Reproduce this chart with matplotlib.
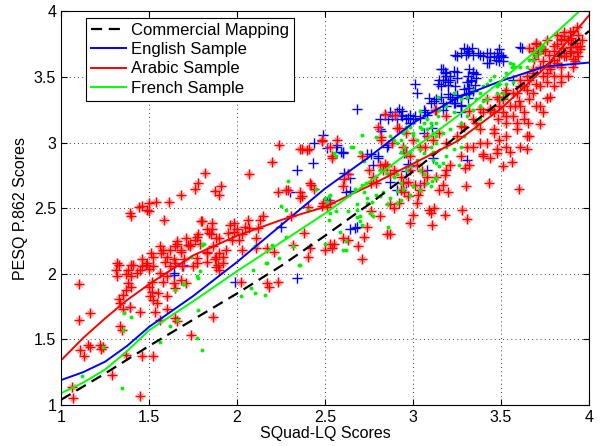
import numpy as np
import matplotlib
matplotlib.use("Agg")
import matplotlib.pyplot as plt
from matplotlib.ticker import FuncFormatter

plt.rcParams['font.family'] = ['Liberation Sans', 'DejaVu Sans']

# fitted curves, sampled along the SQuad-LQ axis
curve_x = [1.0, 1.125, 1.25, 1.375, 1.5, 1.75, 2.0, 2.25, 2.5, 2.75, 3.0, 3.25, 3.5, 3.75, 4.0]
commercial_y = [1.04, 1.14, 1.24, 1.345, 1.45, 1.65, 1.85, 2.06, 2.29, 2.53, 2.78, 3.05, 3.32, 3.58, 3.85]
english_fit = [1.19, 1.25, 1.33, 1.45, 1.595, 1.83, 2.09, 2.37, 2.65, 2.89, 3.15, 3.34, 3.47, 3.58, 3.61]
arabic_fit = [1.34, 1.51, 1.66, 1.80, 1.92, 2.14, 2.29, 2.41, 2.51, 2.67, 2.84, 3.01, 3.26, 3.57, 3.97]
french_fit = [1.09, 1.17, 1.27, 1.41, 1.57, 1.79, 2.02, 2.24, 2.46, 2.70, 2.95, 3.20, 3.47, 3.76, 4.07]

# English samples (SQuad-LQ, PESQ)
english_pts = [
    (3.305, 3.71), (3.32, 3.70), (3.29, 3.72), (3.315, 3.68), (3.30, 3.67), (3.335, 3.72),
    (3.27, 3.68), (3.34, 3.67), (3.24, 3.67), (3.37, 3.68), (3.42, 3.61), (3.40, 3.66),
    (3.44, 3.68), (3.475, 3.68), (3.49, 3.71), (3.485, 3.65), (3.50, 3.66), (3.51, 3.62),
    (3.47, 3.63), (3.61, 3.73), (3.50, 3.67), (3.51, 3.65), (3.49, 3.62), (3.62, 3.72),
    (3.42, 3.68), (3.46, 3.66), (3.44, 3.65), (3.43, 3.61), (3.38, 3.67), (3.25, 3.66),
    (3.17, 3.56), (3.19, 3.53), (3.21, 3.51), (3.18, 3.48), (3.23, 3.545), (3.25, 3.49),
    (3.20, 3.44), (3.16, 3.43), (3.24, 3.43), (3.32, 3.56), (3.34, 3.53), (3.315, 3.51),
    (3.36, 3.49), (3.33, 3.47), (3.35, 3.44), (3.305, 3.46), (3.32, 3.42), (3.34, 3.39),
    (3.21, 3.35), (3.25, 3.36), (3.23, 3.30), (3.19, 3.28), (3.17, 3.25), (3.27, 3.29),
    (3.16, 3.56), (3.18, 3.54), (3.19, 3.51), (3.17, 3.48), (3.21, 3.48), (3.20, 3.46),
    (3.15, 3.48), (3.25, 3.54), (3.34, 3.54), (3.36, 3.52), (3.33, 3.48), (3.315, 3.42),
    (3.29, 3.41), (3.32, 3.38), (3.30, 3.37), (3.315, 3.34), (3.25, 3.35), (3.24, 3.30),
    (3.20, 3.37), (3.16, 3.35), (3.13, 3.33), (3.17, 3.30), (3.22, 3.33), (3.27, 3.28),
    (3.57, 3.48), (3.27, 3.23),
    (3.01, 3.45), (3.02, 3.38), (3.14, 3.45), (3.09, 3.34), (3.12, 3.32), (3.10, 3.30),
    (2.68, 3.26), (2.92, 3.26), (2.94, 3.24), (2.91, 3.23), (2.93, 3.21), (2.87, 3.23),
    (2.86, 3.18), (2.88, 3.20), (2.97, 3.19), (3.00, 3.18), (2.98, 3.15), (3.01, 3.20),
    (3.04, 3.19), (3.06, 3.25), (3.08, 3.21), (3.07, 3.23), (2.81, 3.10), (2.49, 3.06),
    (2.44, 3.00), (2.57, 2.98), (2.60, 2.92), (2.80, 2.90), (2.86, 2.98), (2.90, 3.21),
    (2.94, 3.20), (2.91, 3.18), (2.96, 3.18), (2.98, 3.21), (2.84, 3.21), (2.81, 3.18),
    (2.82, 3.09), (3.11, 3.11), (3.06, 3.07),
    (2.34, 1.97), (2.64, 2.34), (2.67, 2.35), (2.52, 2.56), (2.62, 2.62), (2.64, 2.63),
    (2.63, 2.76), (2.64, 2.73), (2.59, 2.93), (2.74, 2.91), (2.87, 2.70), (2.91, 2.64),
    (2.96, 2.69), (2.98, 2.82), (2.97, 2.84), (2.95, 2.92), (3.115, 2.88), (2.34, 2.79),
    (2.43, 2.845), (2.51, 2.55), (2.30, 2.62), (2.25, 2.36), (1.99, 1.94), (1.64, 1.99),
    (1.695, 2.06), (1.64, 2.01), (1.695, 2.07), (1.39, 1.75), (2.56, 2.97), (2.60, 2.93),
    (2.76, 2.91), (2.80, 2.88), (2.775, 2.83), (2.61, 2.77), (2.85, 2.97), (2.96, 2.93),
    (2.96, 2.78), (3.08, 2.79), (3.04, 2.68), (3.305, 2.87), (2.68, 2.36), (2.51, 2.96),
]

# Arabic samples
arabic_pts = [
    (1.82, 2.77), (1.78, 2.69), (1.76, 2.65), (1.91, 2.67), (1.875, 2.63), (1.90, 2.60),
    (1.68, 2.60), (1.615, 2.55), (1.54, 2.55), (1.50, 2.54), (1.46, 2.52), (1.49, 2.49),
    (1.445, 2.51), (1.585, 2.41), (2.20, 2.85), (2.07, 2.76), (2.23, 2.62), (2.28, 2.64),
    (2.24, 2.98), (2.36, 2.95), (2.40, 2.94), (2.29, 2.64), (2.36, 2.58), (2.415, 2.69),
    (2.405, 2.51), (1.39, 2.46), (1.40, 2.44), (1.50, 2.48),
    (1.33, 2.07), (1.31, 2.03), (1.40, 2.07), (1.46, 2.06), (1.38, 2.03), (1.43, 2.01),
    (1.32, 1.98), (1.37, 2.00), (1.40, 1.98), (1.38, 1.93), (1.40, 1.90), (1.37, 1.88),
    (1.35, 1.84), (1.33, 1.81), (1.335, 1.78), (1.35, 1.73), (1.39, 1.75), (1.45, 1.71),
    (1.10, 1.92), (1.165, 1.70), (1.10, 1.65), (1.335, 1.60), (1.345, 1.57), (1.11, 1.42),
    (1.13, 1.37), (1.155, 1.46), (1.165, 1.445), (1.22, 1.46), (1.23, 1.43), (1.24, 1.445),
    (1.29, 1.23), (1.37, 1.38), (1.46, 1.37), (1.52, 1.37), (1.45, 1.07), (1.065, 1.14),
    (1.07, 1.05), (1.525, 1.80), (1.545, 1.78), (1.535, 1.71), (1.56, 1.65), (1.60, 1.83),
    (1.60, 1.73), (1.65, 1.66), (1.66, 1.64), (1.74, 1.53), (1.865, 1.67), (1.50, 1.90),
    (1.515, 1.865), (1.505, 1.83), (1.515, 1.94), (1.56, 2.01), (1.60, 1.98), (1.58, 1.94),
    (1.64, 1.93), (1.65, 1.89), (1.55, 1.85), (1.68, 1.95), (1.71, 1.93), (1.88, 2.13),
    (1.90, 2.03), (1.83, 2.09), (1.77, 2.08),
    (1.32, 2.08), (1.41, 2.07), (1.49, 2.08), (1.52, 2.06), (1.56, 2.21), (1.57, 2.16),
    (1.60, 2.13), (1.62, 2.18), (1.64, 2.11), (1.66, 2.23), (1.68, 2.17), (1.71, 2.27),
    (1.73, 2.21), (1.77, 2.28), (1.79, 2.23), (1.83, 2.34), (1.85, 2.30), (1.865, 2.21),
    (1.88, 2.27), (1.80, 2.40), (1.86, 2.39), (1.72, 2.22), (1.98, 2.39), (1.95, 2.31),
    (1.97, 2.26), (2.00, 2.34), (2.03, 2.30), (2.045, 2.36), (2.06, 2.41), (2.13, 2.41),
    (2.15, 2.44), (2.12, 2.35), (2.11, 2.27), (2.11, 2.20), (2.03, 2.18), (1.90, 2.16),
    (1.92, 2.08), (1.75, 2.06), (1.69, 2.06), (1.62, 2.06), (1.45, 2.03), (1.50, 2.04),
    (1.59, 2.09), (1.65, 2.08), (1.70, 2.11), (1.77, 2.12), (1.83, 2.17), (1.875, 2.11),
    (1.88, 2.05), (2.17, 2.20), (2.21, 2.17), (2.02, 1.94), (2.17, 1.93), (2.18, 1.90),
    (2.235, 1.94), (2.07, 2.35), (1.96, 2.37), (1.98, 2.32), (2.01, 2.26), (1.855, 2.34),
    (1.795, 2.40), (1.84, 2.31), (1.78, 2.30), (1.76, 2.26), (1.73, 2.23), (1.90, 2.27),
    (1.94, 2.18), (1.92, 2.13), (1.89, 2.07), (1.66, 2.25), (1.65, 2.21), (1.68, 2.18),
    (1.58, 2.18), (1.51, 2.16), (1.52, 2.13), (1.46, 2.11), (1.48, 2.07), (1.83, 2.16),
    (2.36, 2.62), (2.37, 2.59), (2.42, 2.68), (2.435, 2.65), (2.54, 2.88), (2.61, 2.72),
    (2.63, 2.76), (2.60, 2.67), (2.75, 2.79), (2.84, 2.84), (2.85, 2.82), (2.89, 2.79),
    (2.79, 2.69), (2.93, 2.64), (2.95, 2.62), (2.97, 2.59), (3.01, 2.68), (3.03, 2.60),
    (3.09, 2.49), (3.12, 2.50), (3.10, 2.46), (3.00, 2.45), (3.105, 2.37), (3.02, 2.54),
    (2.87, 2.53), (2.89, 2.50), (2.92, 2.54), (2.85, 2.30), (2.87, 2.30), (2.72, 2.28),
    (2.69, 2.21), (2.60, 2.27), (2.63, 2.26), (2.53, 2.23), (2.55, 2.23), (2.54, 2.20),
    (2.50, 2.18), (2.71, 2.11), (2.405, 2.13), (2.415, 2.20), (2.32, 2.22), (2.38, 2.31),
    (2.305, 2.44), (2.49, 2.54), (2.48, 2.52), (2.53, 2.54), (2.98, 2.39), (2.76, 2.48),
    (2.81, 2.44), (2.74, 2.36), (2.51, 2.51), (3.18, 2.45), (3.28, 2.49), (3.305, 2.42),
    (3.20, 2.62), (3.15, 2.64), (3.17, 2.68), (3.13, 2.74), (3.18, 2.75), (3.30, 2.67),
    (3.43, 2.69), (3.60, 2.65), (3.51, 2.82), (3.56, 2.85), (3.295, 2.81), (3.32, 2.83),
    (3.40, 2.91), (3.44, 2.88), (3.475, 2.92), (3.55, 2.93), (3.65, 2.95), (3.21, 2.83),
    (3.19, 2.79), (2.81, 2.83), (2.83, 2.79), (2.87, 2.76), (2.775, 2.74), (2.76, 2.69),
    (2.93, 2.74), (2.945, 2.69), (2.97, 2.70), (2.98, 2.79), (3.02, 2.83), (3.05, 2.78),
    (3.08, 2.74), (3.06, 2.69), (3.04, 2.64),
    (2.37, 2.95), (2.41, 2.95), (2.48, 3.01), (2.57, 3.02), (2.53, 2.97), (2.54, 2.90),
    (2.71, 2.90), (2.80, 3.12), (2.82, 3.04), (2.84, 3.22), (2.90, 3.21), (2.91, 3.11),
    (2.96, 2.92), (2.98, 2.90), (3.13, 3.25), (3.07, 2.97), (2.92, 3.11), (2.82, 3.02),
    (2.88, 3.00), (2.945, 2.97), (3.04, 2.97), (3.115, 3.02), (3.125, 3.25), (3.27, 3.13),
    (3.19, 3.20), (3.32, 3.24), (3.36, 3.15), (3.44, 3.26), (3.49, 3.33), (3.57, 3.38),
    (3.61, 3.43), (3.65, 3.51), (3.68, 3.56), (3.72, 3.58), (3.76, 3.53), (3.72, 3.14),
    (3.78, 3.35), (3.65, 3.05), (3.61, 2.97), (3.53, 2.97), (3.46, 3.07), (3.49, 3.02),
    (3.59, 3.15), (3.305, 2.97), (2.48, 3.02),
    (3.52, 3.38), (3.49, 3.28), (3.46, 3.23), (3.42, 3.33), (3.38, 3.26), (3.65, 3.40),
    (3.68, 3.38), (3.72, 3.43), (3.76, 3.46), (3.80, 3.51), (3.84, 3.58), (3.72, 3.28),
    (3.66, 3.33), (3.61, 3.28), (3.63, 3.23), (3.57, 3.20), (3.53, 3.15), (3.38, 3.10),
    (3.25, 3.05), (3.19, 3.00), (3.15, 3.07), (3.08, 3.05), (3.00, 3.02), (2.96, 3.07),
    (3.655, 3.15), (3.80, 3.43), (3.91, 3.58), (3.88, 3.51), (3.84, 3.46),
    (3.40, 2.90), (3.475, 2.95), (3.42, 3.00), (3.34, 2.97), (3.53, 3.05), (3.59, 3.10),
    (3.63, 3.18), (3.74, 3.23), (3.76, 3.34), (3.66, 3.05), (3.46, 3.10), (3.48, 3.18),
    (3.44, 3.25), (3.58, 3.28), (3.60, 3.32), (3.51, 3.33), (3.53, 3.40), (3.61, 3.48),
    (3.68, 3.53), (3.29, 3.12), (3.34, 3.18), (3.40, 3.23), (3.475, 3.35), (3.51, 3.23),
    (3.55, 3.28), (3.59, 3.38), (3.63, 3.43), (3.66, 3.48), (3.70, 3.45), (3.74, 3.51),
    (3.78, 3.56), (3.82, 3.61), (3.855, 3.66), (3.89, 3.68), (3.93, 3.73), (3.84, 3.51),
    (3.70, 3.28), (3.27, 2.90), (3.38, 3.00), (3.53, 3.20),
    (3.70, 3.75), (3.74, 3.71), (3.80, 3.74), (3.84, 3.68), (3.89, 3.84), (3.91, 3.76),
    (3.95, 3.71), (3.855, 3.84), (3.84, 3.79), (3.87, 3.66), (3.91, 3.64), (3.80, 3.63),
    (3.78, 3.58), (3.80, 3.70), (3.82, 3.75), (3.85, 3.72), (3.88, 3.78), (3.90, 3.80),
    (3.92, 3.76), (3.94, 3.82), (3.83, 3.66), (3.90, 3.70), (3.93, 3.69), (3.95, 3.74),
    (3.86, 3.81), (3.89, 3.73), (3.91, 3.85), (3.84, 3.78), (3.77, 3.67), (3.74, 3.62),
    (3.71, 3.68), (3.68, 3.70), (3.66, 3.72), (3.69, 3.64), (3.72, 3.74), (3.75, 3.70),
    (3.92, 3.62), (3.96, 3.78), (3.93, 3.88), (3.82, 3.82), (3.76, 3.78), (3.70, 3.76),
    (3.94, 3.66),
]

# French samples
french_pts = [
    (1.24, 1.445), (1.345, 1.13), (1.36, 1.70), (1.40, 1.67), (1.35, 1.57), (1.56, 1.48),
    (1.62, 1.60), (1.66, 1.65), (1.65, 1.88), (1.695, 1.92), (1.77, 1.98), (1.78, 1.725),
    (1.77, 1.51), (1.80, 1.42), (1.79, 2.02), (2.02, 1.83), (1.12, 1.22), (2.08, 1.89),
    (2.10, 1.85), (2.16, 1.84), (2.35, 2.07), (2.09, 2.03),
    (2.29, 2.705), (2.25, 2.52), (2.28, 2.49), (2.45, 2.65), (2.50, 2.58), (2.51, 2.55),
    (2.405, 2.49), (1.81, 2.23), (1.74, 2.13), (2.10, 2.21), (2.20, 2.22), (2.28, 2.28),
    (2.32, 2.21), (2.17, 2.08), (1.80, 2.22), (1.78, 1.97), (1.70, 1.92), (2.165, 2.08),
    (2.24, 2.12), (2.36, 2.07), (2.585, 2.32), (2.60, 2.18), (2.53, 2.46), (2.56, 2.475),
    (2.63, 2.475), (2.68, 2.53), (2.68, 2.43), (2.70, 2.40), (2.71, 2.37), (2.755, 2.46),
    (2.775, 2.44), (2.74, 2.54), (2.765, 2.55), (2.79, 2.60), (2.83, 2.62), (2.87, 2.58),
    (2.85, 2.53), (2.91, 2.54), (2.93, 2.56), (2.86, 2.36), (2.52, 2.59), (2.53, 2.60),
    (2.71, 2.68), (2.73, 2.69), (2.67, 2.65), (2.91, 2.63), (2.98, 2.60), (3.00, 2.67),
    (3.08, 2.69), (3.11, 2.71), (3.13, 2.73), (3.06, 2.76), (3.04, 2.79), (2.96, 2.79),
    (2.98, 2.82), (2.91, 2.76), (2.55, 2.92), (2.56, 2.90), (2.72, 2.86), (3.02, 2.87),
    (3.10, 2.91), (3.115, 2.87), (3.13, 2.845), (2.66, 2.97), (2.70, 2.93), (2.81, 2.79),
    (2.85, 2.77), (2.89, 2.74), (2.72, 2.62), (2.74, 2.58), (2.81, 2.59), (2.93, 2.69),
    (2.945, 2.65), (3.04, 2.64), (3.10, 2.67), (3.125, 2.73), (3.15, 2.82), (3.17, 2.845),
    (3.19, 2.90), (3.26, 2.83), (2.62, 2.25), (2.52, 2.41), (2.50, 2.23), (2.68, 2.49),
    (2.70, 2.44), (2.62, 2.18),
    (2.71, 3.06), (2.65, 2.97), (2.79, 3.04), (2.87, 3.05), (2.89, 3.02), (2.91, 3.00),
    (2.945, 3.07), (2.96, 3.10), (2.98, 3.12), (3.00, 3.06), (3.02, 3.02), (3.05, 3.10),
    (3.06, 3.15), (3.08, 3.18), (3.10, 3.12), (3.115, 3.07), (3.13, 3.15), (3.14, 3.20),
    (3.04, 2.95), (3.06, 2.92), (3.10, 2.97), (3.115, 2.93), (3.13, 3.00), (2.98, 2.93),
    (2.95, 2.97), (2.93, 2.93), (3.04, 3.24), (3.10, 3.15), (3.15, 3.25), (3.19, 3.28),
    (3.23, 3.23), (3.27, 3.33), (3.305, 3.35), (3.32, 3.29), (3.34, 3.40), (3.36, 3.33),
    (3.38, 3.38), (3.40, 3.43), (3.42, 3.45), (3.44, 3.48), (3.46, 3.51), (3.475, 3.43),
    (3.49, 3.45), (3.53, 3.53), (3.56, 3.58), (3.57, 3.60), (3.55, 3.61), (3.61, 3.58),
    (3.68, 3.68), (3.70, 3.66), (3.72, 3.71), (3.66, 3.63), (3.74, 3.73), (2.93, 3.02),
    (2.96, 3.12), (3.00, 3.07), (3.04, 3.12), (3.08, 3.10), (3.14, 3.35), (3.23, 3.38),
    (3.38, 3.28), (3.42, 3.33), (3.51, 3.38), (3.53, 3.35), (3.50, 3.33), (3.57, 3.46),
    (3.305, 3.20), (3.27, 3.15), (3.13, 3.05), (3.17, 3.07), (3.21, 3.10), (3.25, 3.02),
    (3.29, 3.05), (3.23, 2.95), (3.19, 2.97), (3.27, 2.97), (3.38, 3.18), (3.36, 3.12),
    (3.34, 3.25), (3.40, 3.32), (3.475, 3.38), (3.53, 3.45), (3.58, 3.58), (3.65, 3.58),
    (3.68, 3.63), (3.72, 3.68),
]

en = np.array(english_pts)
ar = np.array(arabic_pts)
fr = np.array(french_pts)

fig = plt.figure(figsize=(6.0, 4.46), dpi=100)
ax = fig.add_axes([0.1017, 0.0919, 0.88, 0.8825])

# MATLAB-like '+' and '*' markers, with a faint halo like the original raster
asterisk = (8, 2, 0)
ax.plot(en[:, 0], en[:, 1], '+', color='#a8a8ff', ms=8, mew=1.8, alpha=0.35)
ax.plot(en[:, 0], en[:, 1], '+', color='blue', ms=7.5, mew=0.9)
ax.plot(ar[:, 0], ar[:, 1], '+', color='#ff9a9a', ms=7.5, mew=2.4, alpha=0.35)
ax.plot(ar[:, 0], ar[:, 1], ls='none', marker='x', color='#ff8080', ms=5, mew=0.8)
ax.plot(ar[:, 0], ar[:, 1], '+', color='red', ms=7, mew=1.0)
ax.plot(fr[:, 0], fr[:, 1], 'o', color=(0, 0.95, 0), ms=2.8, mew=0)

ax.plot(curve_x, commercial_y, '--', color='black', lw=1.6, dashes=(5, 3),
        label='Commercial Mapping')
ax.plot(curve_x, english_fit, '-', color='blue', lw=1.4, label='English Sample')
ax.plot(curve_x, arabic_fit, '-', color='red', lw=1.4, label='Arabic Sample')
ax.plot(curve_x, french_fit, '-', color=(0, 1, 0), lw=1.4, label='French Sample')

ax.set_xlim(1, 4)
ax.set_ylim(1, 4)
ticks = [1, 1.5, 2, 2.5, 3, 3.5, 4]
ax.set_xticks(ticks)
ax.set_yticks(ticks)
fmt = FuncFormatter(lambda v, p: '%g' % v)
ax.xaxis.set_major_formatter(fmt)
ax.yaxis.set_major_formatter(fmt)
ax.tick_params(direction='in', top=True, right=True, length=4, labelsize=11.5)
ax.grid(True, color='black', linestyle=(0, (1, 4)), lw=0.6)

ax.set_xlabel('SQuad-LQ Scores', fontsize=11.5, labelpad=1)
ax.set_ylabel('PESQ P.862 Scores', fontsize=11.5, labelpad=4)

leg = ax.legend(loc='upper left', bbox_to_anchor=(0.048, 0.983), fontsize=12,
                frameon=True, fancybox=False, edgecolor='black', framealpha=1,
                borderaxespad=0, handlelength=2.1, handletextpad=0.3,
                labelspacing=0.25, borderpad=0.3)
leg.get_frame().set_linewidth(0.8)

fig.savefig('out.png', dpi=100)
